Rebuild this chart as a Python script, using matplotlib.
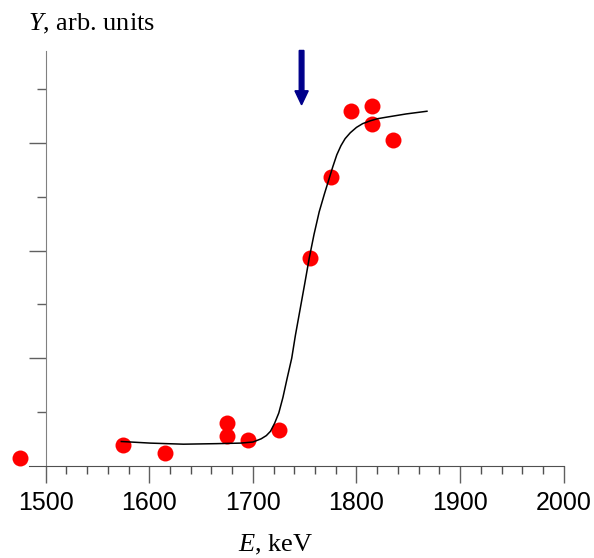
import numpy as np
import matplotlib
matplotlib.use('Agg')
import matplotlib.pyplot as plt
from matplotlib.ticker import FixedLocator

plt.rcParams['mathtext.fontset'] = 'custom'
plt.rcParams['mathtext.it'] = 'Liberation Serif:italic'
plt.rcParams['mathtext.rm'] = 'Liberation Serif'

# Measured points
energy = [1475, 1575, 1615, 1675, 1675, 1695, 1725, 1755, 1775, 1795, 1815, 1815, 1835]
yield_ = [0.15, 0.38, 0.24, 0.80, 0.55, 0.48, 0.66, 3.86, 5.36, 6.59, 6.69, 6.36, 6.06]

# Fit curve
fit_e = [1573, 1601, 1633, 1665, 1688, 1700, 1708, 1713, 1717, 1721, 1725,
         1729, 1733, 1737.5, 1741, 1745.5, 1750, 1754.4, 1759, 1764, 1769,
         1773, 1777, 1781, 1785, 1789, 1794, 1800, 1806, 1813, 1820, 1829,
         1848, 1868]
fit_y = [0.45, 0.42, 0.40, 0.41, 0.42, 0.44, 0.50, 0.56, 0.64, 0.79, 0.98,
         1.27, 1.62, 2.00, 2.42, 2.90, 3.38, 3.86, 4.30, 4.72, 5.05,
         5.30, 5.55, 5.78, 5.95, 6.08, 6.19, 6.29, 6.36, 6.41, 6.45, 6.48,
         6.54, 6.59]

# Threshold arrow
arrow_e = 1747
arrow_top = 7.72
arrow_tip = 6.71

fig = plt.figure(figsize=(5.94, 5.58), dpi=100)
ax = fig.add_axes([29 / 594, 92.3 / 558, 534.7 / 594, 414.7 / 558])

ax.plot(energy, yield_, 'o', color='red', markersize=11.5, markeredgewidth=0,
        clip_on=False, zorder=2)
ax.plot(fit_e, fit_y, color='black', lw=1.1, zorder=3)
ax.arrow(arrow_e, arrow_top, 0, arrow_tip - arrow_top, width=4.5, head_width=12.8,
         head_length=0.26, length_includes_head=True, color='#00008b',
         clip_on=False, zorder=4)

ax.set_xlim(1483.9, 2000)
ax.set_ylim(0, 7.71)

ax.spines['top'].set_visible(False)
ax.spines['right'].set_visible(False)
ax.spines['left'].set_position(('data', 1500))
ax.spines['left'].set_color('#808080')
ax.spines['bottom'].set_color('#505050')

ax.set_xticks(np.arange(1500, 2001, 100))
ax.xaxis.set_minor_locator(FixedLocator(np.arange(1500, 2001, 20)))
ax.yaxis.set_major_locator(FixedLocator([2, 4, 6]))
ax.yaxis.set_minor_locator(FixedLocator([1, 3, 5, 7]))
ax.set_yticklabels([])

ax.tick_params(axis='x', which='major', length=12, width=1, color='#606060',
               labelsize=18, pad=6.5)
ax.tick_params(axis='x', which='minor', length=6, width=1, color='#505050')
ax.tick_params(axis='y', which='major', length=12, width=1, color='#606060')
ax.tick_params(axis='y', which='minor', length=6.5, width=1, color='#606060')
for lab in ax.get_xticklabels():
    lab.set_family('Liberation Sans')

fig.text(28.3 / 594, 1 - 30 / 558, r'$Y$, arb. units', fontsize=19,
         family='Liberation Serif', ha='left', va='baseline')
fig.text(238.3 / 594, 1 - 551.7 / 558, r'$E$, keV', fontsize=19,
         family='Liberation Serif', ha='left', va='baseline')

fig.savefig('out.png', dpi=100)
